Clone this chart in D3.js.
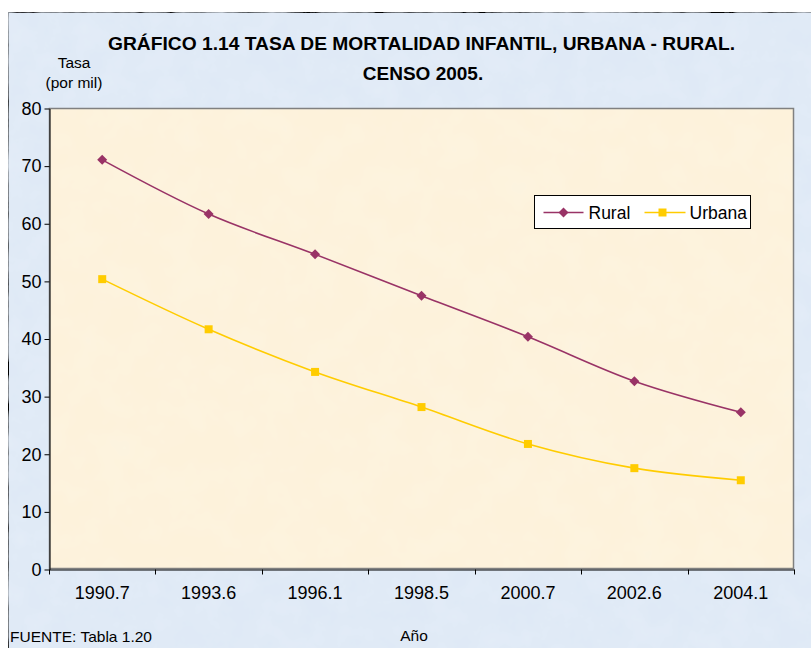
<!DOCTYPE html>
<html>
<head>
<meta charset="utf-8">
<title>Tasa de mortalidad infantil</title>
<script src="https://cdn.jsdelivr.net/npm/d3@7"></script>
<style>
  body { margin: 0; background: #fff; }
  svg { display: block; font-family: "Liberation Sans", Arial, sans-serif; }
  .axis text { font-size: 18px; fill: #000; font-family: "Liberation Sans", Arial, sans-serif; }
  .axis path, .axis line { stroke: #000; }
</style>
</head>
<body>
<script>
// datos del grafico
var years = ["1990.7", "1993.6", "1996.1", "1998.5", "2000.7", "2002.6", "2004.1"];
var rural = [71.0, 61.6, 54.6, 47.4, 40.3, 32.6, 27.2];
var urbana = [50.3, 41.6, 34.2, 28.1, 21.7, 17.5, 15.4];
var yTicks = [0, 10, 20, 30, 40, 50, 60, 70, 80];

var W = 811, H = 648;
var plot = {left: 49, top: 108, right: 794, bottom: 569};

var svg = d3.select("body").append("svg")
  .attr("width", W)
  .attr("height", H);

var defs = svg.append("defs");

// textura azul del fondo
var f1 = defs.append("filter").attr("id", "paper")
  .attr("x", 0).attr("y", 0).attr("width", "100%").attr("height", "100%");
f1.append("feTurbulence").attr("type", "fractalNoise")
  .attr("baseFrequency", "0.04").attr("numOctaves", 4).attr("seed", 3).attr("result", "n");
f1.append("feColorMatrix").attr("in", "n").attr("type", "matrix")
  .attr("values", "0 0 0 0 0.78  0 0 0 0 0.85  0 0 0 0 0.94  1.1 0 0 0 -0.3")
  .attr("result", "c");
f1.append("feComposite").attr("in", "c").attr("in2", "SourceGraphic").attr("operator", "atop");

// textura crema del area de trazado
var f2 = defs.append("filter").attr("id", "cream")
  .attr("x", 0).attr("y", 0).attr("width", "100%").attr("height", "100%");
f2.append("feTurbulence").attr("type", "fractalNoise")
  .attr("baseFrequency", "0.03").attr("numOctaves", 3).attr("seed", 7).attr("result", "n");
f2.append("feColorMatrix").attr("in", "n").attr("type", "matrix")
  .attr("values", "0 0 0 0 0.97  0 0 0 0 0.92  0 0 0 0 0.80  0.7 0 0 0 -0.25")
  .attr("result", "c");
f2.append("feComposite").attr("in", "c").attr("in2", "SourceGraphic").attr("operator", "atop");

// fondo del grafico
svg.append("rect")
  .attr("x", 8.5).attr("y", 12.5)
  .attr("width", W).attr("height", H)
  .attr("fill", "#dfe9f6")
  .attr("stroke", "#000")
  .attr("filter", "url(#paper)");

// area de trazado
svg.append("rect")
  .attr("x", plot.left).attr("y", plot.top)
  .attr("width", plot.right - plot.left).attr("height", plot.bottom - plot.top)
  .attr("fill", "#fdf2db")
  .attr("filter", "url(#cream)");
svg.append("rect")
  .attr("x", plot.left + 0.5).attr("y", plot.top + 0.5)
  .attr("width", plot.right - plot.left - 1).attr("height", plot.bottom - plot.top - 1)
  .attr("fill", "none")
  .attr("stroke", "#808080")
  .attr("stroke-width", 1.5);

// escalas
var x = d3.scaleBand().domain(years).range([plot.left, plot.right]);
var y = d3.scaleLinear().domain([0, 80]).range([plot.bottom, plot.top]);
var cx = function(d, i) { return x(years[i]) + x.bandwidth() / 2; };

// eje Y
svg.append("g")
  .attr("class", "axis")
  .attr("transform", "translate(" + (plot.left + 0.5) + ",0.5)")
  .call(d3.axisLeft(y).tickValues(yTicks).tickSize(5).tickSizeOuter(0).tickPadding(3));

// eje X (marcas entre categorias)
var gx = svg.append("g")
  .attr("class", "axis")
  .attr("transform", "translate(0," + (plot.bottom + 0.5) + ")")
  .call(d3.axisBottom(x).tickSize(0).tickSizeOuter(0).tickPadding(17));
gx.selectAll(".bnd")
  .data(d3.range(years.length + 1))
  .enter().append("line")
  .attr("x1", function(i) { return Math.round(plot.left + i * x.step()) + 0.5; })
  .attr("x2", function(i) { return Math.round(plot.left + i * x.step()) + 0.5; })
  .attr("y1", 0).attr("y2", 5)
  .attr("stroke", "#000");

// lineas suavizadas
var line = d3.line()
  .x(cx)
  .y(function(d) { return y(d); })
  .curve(d3.curveCatmullRom.alpha(0.5));

svg.append("path").datum(rural)
  .attr("d", line).attr("fill", "none")
  .attr("stroke", "#993366").attr("stroke-width", 1.6);
svg.append("path").datum(urbana)
  .attr("d", line).attr("fill", "none")
  .attr("stroke", "#ffcc00").attr("stroke-width", 1.6);

var diamond = d3.symbol().type(d3.symbolSquare).size(50);
var square = d3.symbol().type(d3.symbolSquare).size(64);

svg.selectAll(".mr").data(rural).enter().append("path")
  .attr("d", diamond)
  .attr("transform", function(d, i) { return "translate(" + cx(d, i) + "," + y(d) + ") rotate(45)"; })
  .attr("fill", "#993366");
svg.selectAll(".mu").data(urbana).enter().append("path")
  .attr("d", square)
  .attr("transform", function(d, i) { return "translate(" + cx(d, i) + "," + y(d) + ")"; })
  .attr("fill", "#ffcc00");

// leyenda
var lg = svg.append("g").attr("transform", "translate(534.5,195.5)");
lg.append("rect").attr("width", 216).attr("height", 33)
  .attr("fill", "#fff").attr("stroke", "#000");
lg.append("line").attr("x1", 9).attr("x2", 49).attr("y1", 17).attr("y2", 17)
  .attr("stroke", "#993366").attr("stroke-width", 1.6);
lg.append("path").attr("d", diamond)
  .attr("transform", "translate(29,17) rotate(45)").attr("fill", "#993366");
lg.append("text").attr("x", 54).attr("y", 23).attr("font-size", 17.5).text("Rural");
lg.append("line").attr("x1", 110).attr("x2", 151).attr("y1", 17).attr("y2", 17)
  .attr("stroke", "#ffcc00").attr("stroke-width", 1.6);
lg.append("path").attr("d", square)
  .attr("transform", "translate(128,17)").attr("fill", "#ffcc00");
lg.append("text").attr("x", 155).attr("y", 23).attr("font-size", 17.5).text("Urbana");

// titulos
svg.append("text")
  .attr("x", 421.5).attr("y", 50)
  .attr("text-anchor", "middle")
  .attr("font-size", 19).attr("font-weight", "bold")
  .attr("textLength", 627).attr("lengthAdjust", "spacingAndGlyphs")
  .text("GRÁFICO 1.14 TASA DE MORTALIDAD INFANTIL, URBANA - RURAL.");
svg.append("text")
  .attr("x", 423).attr("y", 80)
  .attr("text-anchor", "middle")
  .attr("font-size", 19).attr("font-weight", "bold")
  .text("CENSO 2005.");

svg.append("text")
  .attr("x", 74).attr("y", 68)
  .attr("text-anchor", "middle").attr("font-size", 15.5)
  .text("Tasa");
svg.append("text")
  .attr("x", 74).attr("y", 88)
  .attr("text-anchor", "middle").attr("font-size", 15.5)
  .text("(por mil)");

svg.append("text")
  .attr("x", 414).attr("y", 641)
  .attr("text-anchor", "middle").attr("font-size", 15.5)
  .text("Año");
svg.append("text")
  .attr("x", 10).attr("y", 642)
  .attr("font-size", 15)
  .attr("textLength", 142).attr("lengthAdjust", "spacingAndGlyphs")
  .text("FUENTE: Tabla 1.20");
</script>
</body>
</html>
